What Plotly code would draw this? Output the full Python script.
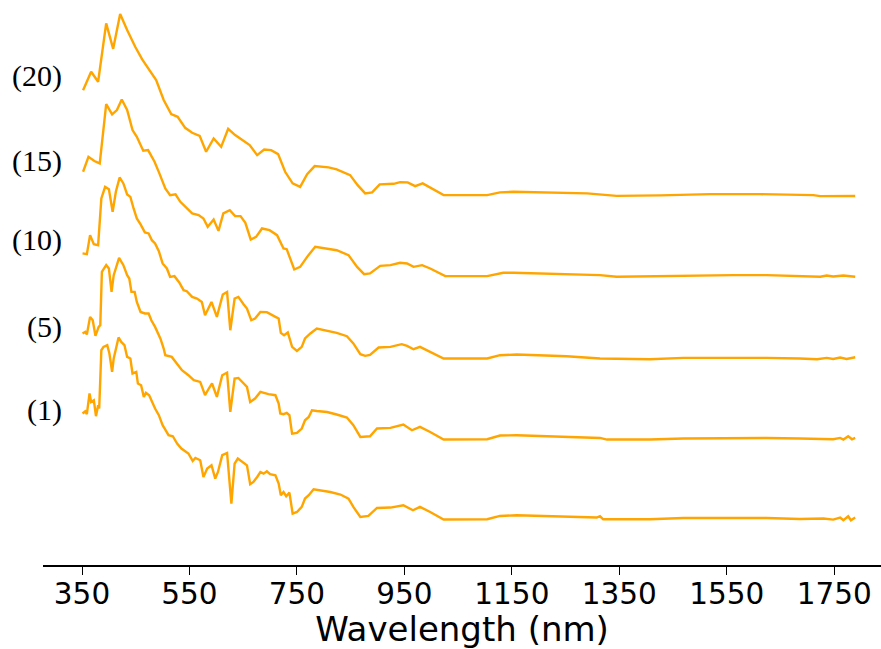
import plotly.graph_objects as go

# ---- data: wavelength (nm) and reflectance for each spectrum ----
wl_20 = [352, 367, 380, 395, 408, 421, 434, 449, 462, 474, 488, 502, 516, 528, 542, 555, 569, 581, 595, 609,
         622, 635, 649, 662, 676, 689, 702, 715, 728, 742, 756, 769, 783, 809, 824, 849, 863, 877, 890, 904,
         930, 942, 956, 970, 984, 998, 1023, 1104, 1128, 1153, 1209, 1290, 1345, 1426, 1519, 1612, 1711, 1724, 1789]
r_20 = [0.1545, 0.1729, 0.1630, 0.2208, 0.1956, 0.2300, 0.2142, 0.1976, 0.1851, 0.1762, 0.1647, 0.1449, 0.1310,
        0.1283, 0.1174, 0.1125, 0.1095, 0.0937, 0.1069, 0.0986, 0.1164, 0.1102, 0.1052, 0.1003, 0.0904, 0.0960,
        0.0953, 0.0914, 0.0739, 0.0624, 0.0590, 0.0716, 0.0795, 0.0782, 0.0762, 0.0706, 0.0607, 0.0525, 0.0535,
        0.0614, 0.0620, 0.0637, 0.0634, 0.0597, 0.0624, 0.0584, 0.0508, 0.0508, 0.0535, 0.0541, 0.0535, 0.0525,
        0.0501, 0.0505, 0.0518, 0.0518, 0.0508, 0.0498, 0.0500]

wl_15 = [352, 362, 373, 383, 395, 406, 415, 424, 434, 444, 452, 464, 473, 485, 494, 505, 514, 524, 533, 555,
         567, 576, 584, 595, 604, 613, 625, 635, 645, 654, 664, 674, 685, 699, 713, 725, 731, 745, 756, 769,
         784, 809, 824, 846, 862, 875, 886, 905, 924, 942, 955, 967, 983, 998, 1026, 1104, 1134, 1153, 1252,
         1314, 1345, 1407, 1469, 1562, 1624, 1711, 1724, 1736, 1748, 1767, 1789]
r_15 = [0.1539, 0.1687, 0.1645, 0.1622, 0.2209, 0.2107, 0.2150, 0.2255, 0.2150, 0.1952, 0.1885, 0.1747, 0.1753,
        0.1638, 0.1523, 0.1374, 0.1308, 0.1315, 0.1242, 0.1127, 0.1110, 0.1077, 0.0994, 0.1067, 0.0954, 0.1127,
        0.1159, 0.1100, 0.1100, 0.1034, 0.0869, 0.0895, 0.0978, 0.0961, 0.0912, 0.0780, 0.0773, 0.0572, 0.0598,
        0.0697, 0.0796, 0.0780, 0.0763, 0.0714, 0.0598, 0.0526, 0.0533, 0.0608, 0.0615, 0.0638, 0.0632, 0.0598,
        0.0615, 0.0582, 0.0506, 0.0506, 0.0539, 0.0539, 0.0526, 0.0516, 0.0500, 0.0506, 0.0509, 0.0516, 0.0516,
        0.0506, 0.0500, 0.0513, 0.0503, 0.0513, 0.0500]

wl_10 = [351, 359, 365, 372, 380, 386, 393, 400, 407, 413, 420, 427, 434, 440, 446, 452, 459, 467, 474, 480,
         486, 493, 500, 508, 514, 522, 531, 539, 545, 555, 564, 573, 579, 591, 601, 612, 620, 626, 634, 641,
         651, 657, 665, 672, 682, 694, 710, 716, 720, 726, 733, 741, 750, 759, 765, 775, 787, 797, 824, 843,
         855, 868, 877, 886, 902, 924, 945, 955, 967, 979, 998, 1023, 1104, 1128, 1159, 1252, 1314, 1407, 1469,
         1562, 1624, 1686, 1718, 1736, 1748, 1761, 1773, 1789]
r_10 = [0.1531, 0.1524, 0.1712, 0.1623, 0.1613, 0.2075, 0.2190, 0.2167, 0.1943, 0.2141, 0.2283, 0.2224, 0.2115,
        0.2091, 0.1976, 0.1877, 0.1818, 0.1739, 0.1729, 0.1662, 0.1630, 0.1553, 0.1432, 0.1382, 0.1299, 0.1306,
        0.1244, 0.1167, 0.1157, 0.1101, 0.1085, 0.1051, 0.0920, 0.1051, 0.0903, 0.1125, 0.1150, 0.0771, 0.1085,
        0.1101, 0.1026, 0.0986, 0.0870, 0.0887, 0.0952, 0.0950, 0.0903, 0.0887, 0.0745, 0.0722, 0.0749, 0.0606,
        0.0566, 0.0606, 0.0689, 0.0739, 0.0788, 0.0778, 0.0745, 0.0712, 0.0640, 0.0534, 0.0517, 0.0527, 0.0600,
        0.0606, 0.0633, 0.0616, 0.0583, 0.0606, 0.0556, 0.0491, 0.0491, 0.0524, 0.0531, 0.0514, 0.0491, 0.0484,
        0.0497, 0.0501, 0.0497, 0.0491, 0.0484, 0.0497, 0.0487, 0.0501, 0.0487, 0.0504]

wl_5 = [351, 356, 359, 365, 370, 375, 381, 384, 387, 395, 400, 405, 409, 415, 419, 427, 434, 438, 442, 448,
        452, 459, 467, 474, 479, 486, 496, 502, 505, 517, 527, 536, 548, 558, 570, 579, 586, 592, 601, 611,
        620, 626, 634, 641, 651, 657, 663, 672, 682, 691, 697, 710, 716, 719, 725, 731, 736, 741, 750, 759,
        765, 772, 778, 787, 806, 824, 843, 855, 868, 886, 899, 924, 948, 964, 979, 998, 1023, 1104, 1128, 1159,
        1252, 1314, 1327, 1407, 1469, 1562, 1624, 1686, 1724, 1748, 1761, 1767, 1776, 1783, 1789]
r_5 = [0.1539, 0.1554, 0.1529, 0.1703, 0.1670, 0.1515, 0.1604, 0.1621, 0.2149, 0.2215, 0.2182, 0.1950, 0.2116,
       0.2215, 0.2287, 0.2215, 0.2116, 0.2083, 0.1950, 0.1950, 0.1851, 0.1752, 0.1737, 0.1737, 0.1670, 0.1604,
       0.1487, 0.1390, 0.1324, 0.1307, 0.1242, 0.1175, 0.1126, 0.1076, 0.1059, 0.0928, 0.0994, 0.1044, 0.0911,
       0.1126, 0.1152, 0.0762, 0.1093, 0.1099, 0.1044, 0.1010, 0.0861, 0.0895, 0.0960, 0.0945, 0.0938, 0.0928,
       0.0846, 0.0747, 0.0740, 0.0752, 0.0730, 0.0548, 0.0554, 0.0598, 0.0680, 0.0713, 0.0779, 0.0772, 0.0762,
       0.0737, 0.0707, 0.0631, 0.0515, 0.0522, 0.0598, 0.0604, 0.0638, 0.0581, 0.0614, 0.0564, 0.0490, 0.0492,
       0.0529, 0.0532, 0.0515, 0.0505, 0.0489, 0.0489, 0.0499, 0.0505, 0.0505, 0.0499, 0.0495, 0.0492, 0.0505,
       0.0489, 0.0522, 0.0492, 0.0505]

wl_1 = [351, 356, 359, 364, 367, 372, 376, 380, 382, 386, 390, 397, 401, 406, 409, 413, 418, 423, 429, 434,
        440, 444, 451, 454, 460, 465, 469, 475, 480, 486, 493, 500, 505, 511, 519, 527, 535, 541, 548, 556,
        561, 570, 576, 583, 591, 598, 603, 611, 620, 628, 634, 640, 648, 657, 663, 669, 676, 682, 688, 694,
        700, 710, 716, 720, 725, 730, 736, 742, 750, 759, 765, 772, 781, 793, 812, 831, 846, 855, 868, 883,
        899, 924, 948, 966, 979, 998, 1023, 1104, 1128, 1159, 1252, 1308, 1314, 1320, 1407, 1469, 1562, 1624,
        1686, 1730, 1748, 1761, 1767, 1776, 1781, 1789]
r_1 = [0.1547, 0.1569, 0.1540, 0.1745, 0.1661, 0.1678, 0.1520, 0.1629, 0.1596, 0.2173, 0.2206, 0.2223, 0.2141,
       0.1958, 0.2091, 0.2173, 0.2299, 0.2255, 0.2223, 0.2107, 0.2091, 0.1943, 0.1958, 0.1844, 0.1827, 0.1711,
       0.1751, 0.1728, 0.1661, 0.1596, 0.1530, 0.1431, 0.1388, 0.1332, 0.1322, 0.1250, 0.1200, 0.1176, 0.1151,
       0.1077, 0.1107, 0.1084, 0.0919, 0.1002, 0.1035, 0.0903, 0.0968, 0.1134, 0.1156, 0.0655, 0.1051, 0.1101,
       0.1067, 0.1034, 0.0847, 0.0869, 0.0919, 0.0968, 0.0952, 0.0975, 0.0946, 0.0936, 0.0853, 0.0738, 0.0770,
       0.0728, 0.0764, 0.0557, 0.0572, 0.0622, 0.0705, 0.0738, 0.0797, 0.0787, 0.0770, 0.0745, 0.0705, 0.0622,
       0.0523, 0.0533, 0.0612, 0.0616, 0.0639, 0.0589, 0.0622, 0.0572, 0.0498, 0.0500, 0.0533, 0.0540, 0.0523,
       0.0517, 0.0530, 0.0500, 0.0500, 0.0513, 0.0513, 0.0513, 0.0503, 0.0507, 0.0497, 0.0517, 0.0490, 0.0530,
       0.0490, 0.0517]

labels = ["(1)", "(5)", "(10)", "(15)", "(20)"]
series = [(wl_1, r_1), (wl_5, r_5), (wl_10, r_10), (wl_15, r_15), (wl_20, r_20)]
tick_vals = [350, 550, 750, 950, 1150, 1350, 1550, 1750]

# ---- style / layout ----
OFFSET_STEP = 0.08
LINE_COLOR = "#FFA500"
label_y = [0.158, 0.240, 0.326, 0.405, 0.4886]

fig = go.Figure()
for i, (wl, r) in enumerate(series):
    fig.add_trace(go.Scatter(
        x=wl, y=[v + i * OFFSET_STEP for v in r], mode="lines",
        line=dict(color=LINE_COLOR, width=2.4), name=labels[i], showlegend=False,
        hoverinfo="skip"))

annotations = []
for i, lab in enumerate(labels):
    annotations.append(dict(
        x=315.8, y=label_y[i], xref="x", yref="y", text=lab, showarrow=False,
        xanchor="right", yanchor="middle",
        font=dict(family="Liberation Serif, Times New Roman, serif", size=30, color="black")))

fig.update_layout(
    width=881, height=649,
    margin=dict(l=43, r=0, t=0, b=84),
    plot_bgcolor="white", paper_bgcolor="white",
    annotations=annotations,
    xaxis=dict(
        range=[277.4, 1837], tickvals=tick_vals, ticktext=[str(v) for v in tick_vals],
        automargin=False,
        showgrid=False, zeroline=False, showline=True, linecolor="black", linewidth=1.6,
        ticks="outside", ticklen=8, tickwidth=1.3, tickcolor="black",
        ticklabelstandoff=-6,
        tickfont=dict(family="DejaVu Sans", size=29.5, color="black"),
        title=dict(text="Wavelength (nm)", font=dict(family="DejaVu Sans", size=34, color="black"),
                   standoff=16)),
    yaxis=dict(range=[0.00475, 0.5639], visible=False, showgrid=False, zeroline=False,
               automargin=False),
)

fig.write_html("out.html", config={"displayModeBar": False},
               post_script="document.body.style.margin='0';document.body.style.overflow='hidden';")
